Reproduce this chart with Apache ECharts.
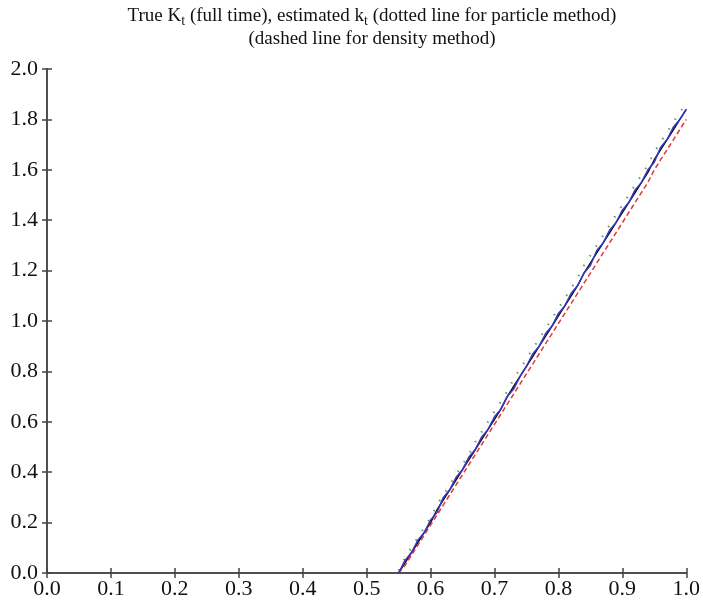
<!DOCTYPE html>
<html>
<head>
<meta charset="utf-8">
<script src="https://cdn.jsdelivr.net/npm/echarts@6/dist/echarts.min.js"></script>
<style>
html,body{margin:0;padding:0;background:#fff;}
#chart{width:703px;height:609px;}
</style>
</head>
<body>
<div id="chart"></div>
<script>
var xs = [0.55,0.56,0.57,0.58,0.59,0.60,0.61,0.62,0.63,0.64,0.65,0.66,0.67,0.68,0.69,0.70,0.71,0.72,0.73,0.74,0.75,0.76,0.77,0.78,0.79,0.80,0.81,0.82,0.83,0.84,0.85,0.86,0.87,0.88,0.89,0.90,0.91,0.92,0.93,0.94,0.95,0.96,0.97,0.98,0.99,1.00];
var trueK = [0.00,0.04,0.08,0.12,0.16,0.20,0.25,0.29,0.33,0.37,0.41,0.45,0.49,0.53,0.57,0.61,0.65,0.70,0.74,0.78,0.82,0.86,0.90,0.94,0.98,1.02,1.06,1.10,1.14,1.19,1.23,1.27,1.31,1.35,1.39,1.43,1.47,1.51,1.55,1.59,1.64,1.68,1.72,1.76,1.80,1.84];
var estBlue = [0.00,0.05,0.08,0.13,0.16,0.21,0.24,0.30,0.33,0.38,0.41,0.46,0.49,0.54,0.57,0.62,0.65,0.70,0.73,0.78,0.82,0.87,0.90,0.95,0.98,1.03,1.06,1.11,1.14,1.19,1.22,1.28,1.31,1.36,1.39,1.44,1.47,1.52,1.55,1.60,1.63,1.69,1.72,1.77,1.80,1.84];
var densityRed = [0.00,0.03,0.07,0.11,0.15,0.19,0.23,0.27,0.31,0.35,0.39,0.43,0.47,0.51,0.55,0.59,0.63,0.67,0.71,0.75,0.79,0.83,0.87,0.91,0.95,0.99,1.03,1.07,1.11,1.15,1.19,1.23,1.27,1.31,1.35,1.39,1.43,1.47,1.51,1.55,1.60,1.64,1.68,1.72,1.76,1.80];
var particleGreen = [0.01,0.06,0.10,0.14,0.18,0.22,0.27,0.31,0.35,0.39,0.43,0.47,0.52,0.56,0.60,0.64,0.68,0.72,0.77,0.81,0.85,0.89,0.93,0.97,1.01,1.05,1.09,1.13,1.17,1.22,1.26,1.30,1.34,1.38,1.42,1.46,1.50,1.54,1.58,1.62,1.67,1.71,1.75,1.79,1.83,1.86];
var particleYellow = [0.03,0.07,0.11,0.15,0.20,0.24,0.28,0.32,0.36,0.41,0.45,0.49,0.53,0.57,0.61,0.65,0.69,0.74,0.78,0.82,0.86,0.90,0.94,0.99,1.03,1.07,1.11,1.15,1.19,1.23,1.27,1.31,1.35,1.39,1.43,1.47,1.51,1.55,1.59,1.63,1.67,1.71,1.75,1.79,1.83,1.87];
var xTicks = [0.0,0.1,0.2,0.3,0.4,0.5,0.6,0.7,0.8,0.9,1.0];
var yTicks = [0.0,0.2,0.4,0.6,0.8,1.0,1.2,1.4,1.6,1.8,2.0];

function pairs(ys){ return xs.map(function(x,i){ return [x, ys[i]]; }); }

var chart = echarts.init(document.getElementById('chart'), null, {renderer:'canvas'});
var font = '"Liberation Serif","Times New Roman",serif';
var axisLine = {show:true, lineStyle:{color:'#444', width:1.5}};
var tick = {show:true, inside:true, length:5, lineStyle:{color:'#444', width:1.5}};
chart.setOption({
  animation:false,
  backgroundColor:'#fff',
  title:{
    left:367, textAlign:'center', top:0,
    text:'True K{sub|t} (full time), estimated k{sub|t} (dotted line for particle method)\n(dashed line for density method)',
    textStyle:{
      fontFamily:font, fontSize:19, fontWeight:'normal', color:'#111', lineHeight:23,
      rich:{
        sub:{fontFamily:font, fontSize:14, color:'#111', verticalAlign:'bottom', lineHeight:16, padding:[8,0,0,0]}
      }
    }
  },
  grid:{left:47, right:16, top:69, bottom:36, containLabel:false},
  xAxis:[
    {type:'value', min:0, max:1, interval:0.1, position:'bottom',
     axisLine:axisLine, axisTick:tick, splitLine:{show:false},
     axisLabel:{color:'#111', fontFamily:font, fontSize:22, margin:5,
       formatter:function(v){ return v.toFixed(1); }}},
    {type:'value', min:0, max:1, interval:0.1, position:'top',
     axisLine:axisLine, axisTick:tick, splitLine:{show:false}, axisLabel:{show:false}}
  ],
  yAxis:[
    {type:'value', min:0, max:2, interval:0.2, position:'left',
     axisLine:axisLine, axisTick:tick, splitLine:{show:false},
     axisLabel:{color:'#111', fontFamily:font, fontSize:22, margin:9,
       formatter:function(v){ return v.toFixed(1); }}},
    {type:'value', min:0, max:2, interval:0.2, position:'right',
     axisLine:axisLine, axisTick:tick, splitLine:{show:false}, axisLabel:{show:false}}
  ],
  series:[
    {type:'line', data:pairs(particleYellow), symbol:'none', lineStyle:{color:'#f3efa8', width:1.5, type:[1,9]}, z:1},
    {type:'line', data:pairs(particleGreen), symbol:'none', lineStyle:{color:'#5a9a70', width:2, type:[1.5,10]}, z:2},
    {type:'line', data:pairs(trueK), symbol:'none', lineStyle:{color:'#111', width:1.5}, z:3},
    {type:'line', data:pairs(densityRed), symbol:'none', lineStyle:{color:'#e03a3a', width:1.5, type:[5,3]}, z:4},
    {type:'line', data:pairs(estBlue), symbol:'none', lineStyle:{color:'#3535c8', width:1.5}, z:5}
  ]
});
</script>
</body>
</html>
